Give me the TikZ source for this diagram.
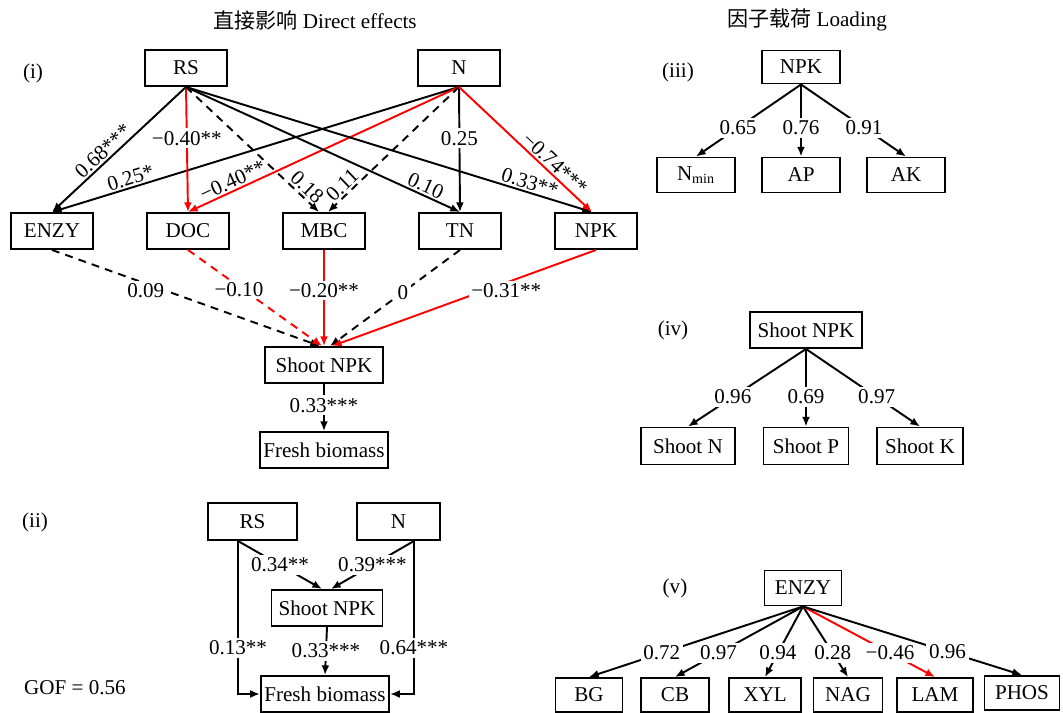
\documentclass[tikz,border=0pt]{standalone}
\usepackage{fontspec}
\setmainfont{Liberation Serif}
\newfontfamily\cjk{Noto Sans CJK SC}
\usetikzlibrary{arrows.meta}

\begin{document}
\begin{tikzpicture}[x=0.02cm, y=-0.02cm, font=\fontsize{12}{14}\selectfont,
    box/.style={draw=black, line width=1.1pt, fill=white, minimum width=1.64cm, minimum height=0.72cm, inner sep=2pt}]
    \useasboundingbox (0,0) rectangle (1063,713);

    \node (T1) at (315,20) {{\cjk 直接影响} Direct effects};
    \node (T2) at (807,20) {{\cjk 因子载荷} Loading};

    % (i) direct effects
    \node (P1) at (33,73) {(i)};
    \node[box] (RS) at (186,68) {RS};
    \node[box] (N) at (459,68) {N};
    \node[box] (ENZY) at (52,231) {ENZY};
    \node[box] (DOC) at (188,231) {DOC};
    \node[box] (MBC) at (324,231) {MBC};
    \node[box] (TN) at (460,231) {TN};
    \node[box] (NPK) at (596,231) {NPK};
    \node[box, minimum width=2.36cm] (SNPK) at (324,365) {Shoot NPK};
    \node[box, minimum width=2.56cm] (FB) at (324,450) {Fresh biomass};

    % (ii)
    \node (P2) at (35,522) {(ii)};
    \node[box, minimum width=1.78cm, minimum height=0.74cm] (RS2) at (252.5,521.5) {RS};
    \node[box, minimum width=1.66cm, minimum height=0.74cm] (N2) at (398.5,521.5) {N};
    \node[box, minimum width=2.22cm] (SNPK2) at (327,608) {Shoot NPK};
    \node[box, minimum width=2.54cm] (FB2) at (325,694) {Fresh biomass};
    \node (GOF) at (75,688) {GOF = 0.56};
    \coordinate (RSo) at ([xshift=-0.29cm]RS2.south);
    \coordinate (No) at ([xshift=0.31cm]N2.south);

    % (iii)
    \node (P3) at (678,72) {(iii)};
    \node[box, minimum width=1.56cm, minimum height=0.66cm] (NPK3) at (801,67) {NPK};
    \node[box, minimum width=1.56cm, minimum height=0.7cm] (NMIN) at (696,175) {N\textsubscript{min}};
    \node[box, minimum width=1.56cm, minimum height=0.7cm] (AP) at (801,175) {AP};
    \node[box, minimum width=1.56cm, minimum height=0.7cm] (AK) at (906,175) {AK};

    % (iv)
    \node (P4) at (673,330) {(iv)};
    \node[box, minimum width=2.24cm] (SNPK4) at (806,330) {Shoot NPK};
    \node[box, minimum width=1.88cm, minimum height=0.74cm] (SN) at (688,446) {Shoot N};
    \node[box, minimum width=1.7cm, minimum height=0.74cm] (SP) at (806,446) {Shoot P};
    \node[box, minimum width=1.72cm, minimum height=0.74cm] (SK) at (920,446) {Shoot K};

    % (v)
    \node (P5) at (675,588) {(v)};
    \node[box, minimum width=1.54cm, minimum height=0.7cm] (ENZY5) at (803,588) {ENZY};
    \node[box, minimum width=1.34cm, minimum height=0.68cm] (BG) at (589,695) {BG};
    \node[box, minimum width=1.36cm, minimum height=0.68cm] (CB) at (675,695) {CB};
    \node[box, minimum width=1.44cm, minimum height=0.68cm] (XYL) at (765,695) {XYL};
    \node[box, minimum width=1.38cm, minimum height=0.68cm] (NAG) at (848,695) {NAG};
    \node[box, minimum width=1.52cm, minimum height=0.68cm] (LAM) at (935,695) {LAM};
    \node[box, minimum width=1.5cm, minimum height=0.68cm] (PHOS) at (1022,693) {PHOS};

    \tikzset{arr/.style={-{Latex[length=5.5pt,width=4.5pt]}, line width=1.1pt}}
    \tikzset{dsh/.style={dash pattern=on 4.5pt off 3.5pt}}
    \tikzset{lab/.style={fill=white, inner sep=1.5pt, text=black}}
    \tikzset{slab/.style={sloped, above, inner sep=1pt, text=black}}

    \draw (RS.south) edge[arr] node[slab, pos=0.57] {0.68***} (ENZY.north);
    \draw (N.south) edge[arr] node[slab, pos=0.8] {0.25*} (ENZY.north);
    \draw (RS.south) edge[arr, red] node[lab, pos=0.41] {−0.40**} (DOC.north);
    \draw (N.south) edge[arr, red] node[slab, pos=0.82] {−0.40**} (DOC.north);
    \draw (RS.south) edge[arr, dsh] node[slab, pos=0.86] {0.18} ([xshift=-0.1cm]MBC.north);
    \draw (N.south) edge[arr, dsh] node[slab, pos=0.84] {0.11} ([xshift=0.08cm]MBC.north);
    \draw (RS.south) edge[arr] node[slab, pos=0.86] {0.10} (TN.north);
    \draw (N.south) edge[arr] node[lab, pos=0.41] {0.25} (TN.north);
    \draw (RS.south) edge[arr] node[slab, pos=0.84] {0.33**} ([xshift=-0.08cm]NPK.north);
    \draw (N.south) edge[arr, red] node[slab, pos=0.67] {−0.74***} ([xshift=-0.08cm]NPK.north);

    \draw (ENZY.south) edge[arr, dsh] node[lab, pos=0.35, yshift=-0.14cm] {0.09} ([xshift=-0.08cm]SNPK.north);
    \draw (DOC.south) edge[arr, dsh, red] node[lab, pos=0.38, yshift=-0.06cm] {−0.10} ([xshift=-0.04cm]SNPK.north);
    \draw (MBC.south) edge[arr, red] node[lab, pos=0.42] {−0.20**} (SNPK.north);
    \draw (TN.south) edge[arr, dsh] node[lab, pos=0.44] {0} ([xshift=0.12cm]SNPK.north);
    \draw (NPK.south) edge[arr, red] node[lab, pos=0.34, yshift=-0.16cm] {−0.31**} ([xshift=0.16cm]SNPK.north);
    \draw (SNPK.south) edge[arr] node[lab, pos=0.45] {0.33***} (FB.north);

    \draw (RSo) edge[arr] node[lab] {0.34**} ([xshift=-0.1cm]SNPK2.north);
    \draw (No) edge[arr] node[lab] {0.39***} ([xshift=0.08cm]SNPK2.north);
    \draw[arr] (RSo) |- node[lab, pos=0.35] {0.13**} (FB2.west);
    \draw[arr] (No) |- node[lab, pos=0.35] {0.64***} (FB2.east);
    \draw (SNPK2.south) edge[arr] node[lab] {0.33***} (FB2.north);

    \draw (NPK3.south) edge[arr] node[lab, pos=0.6] {0.65} (NMIN.north);
    \draw (NPK3.south) edge[arr] node[lab, pos=0.6] {0.76} (AP.north);
    \draw (NPK3.south) edge[arr] node[lab, pos=0.6] {0.91} (AK.north);

    \draw (SNPK4.south) edge[arr] node[lab, pos=0.62] {0.96} (SN.north);
    \draw (SNPK4.south) edge[arr] node[lab, pos=0.62] {0.69} (SP.north);
    \draw (SNPK4.south) edge[arr] node[lab, pos=0.62] {0.97} (SK.north);

    \draw (ENZY5.south) edge[arr] node[lab, pos=0.66] {0.72} (BG.north);
    \draw (ENZY5.south) edge[arr] node[lab, pos=0.66] {0.97} (CB.north);
    \draw (ENZY5.south) edge[arr] node[lab, pos=0.66] {0.94} (XYL.north);
    \draw (ENZY5.south) edge[arr] node[lab, pos=0.66] {0.28} (NAG.north);
    \draw (ENZY5.south) edge[arr, red] node[lab, pos=0.66] {−0.46} (LAM.north);
    \draw (ENZY5.south) edge[arr] node[lab, pos=0.66] {0.96} (PHOS.north);

\end{tikzpicture}
\end{document}
